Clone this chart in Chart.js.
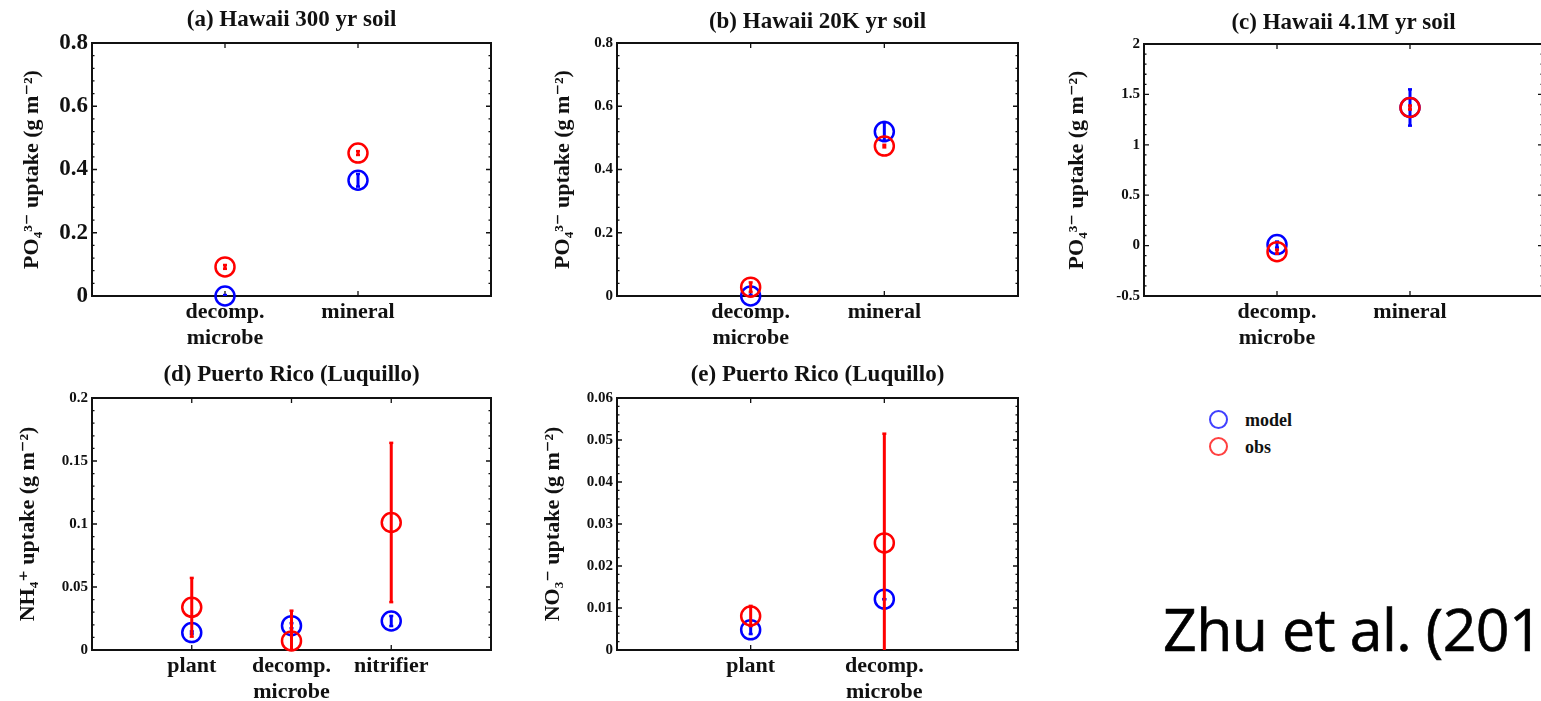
<!DOCTYPE html>
<html>
<head>
<meta charset="utf-8">
<script src="https://cdn.jsdelivr.net/npm/chart.js@4.4.1/dist/chart.umd.min.js"></script>
<style>
  html, body { margin: 0; padding: 0; background: #fff; }
  body { width: 1541px; height: 701px; overflow: hidden; position: relative; }
  .panel { position: absolute; }
  .legend { position: absolute; font: bold 18px "Liberation Serif", serif; color: #111; }
  .legend div { position: absolute; white-space: nowrap; }
  .dot { position: absolute; width: 15px; height: 15px; border-radius: 50%; border: 2px solid; }
  #cite { position: absolute; left: 1163px; top: 599px; font: 59px "Open Sans", sans-serif; line-height: 1; letter-spacing: -0.6px; white-space: nowrap; color: #000; -webkit-text-stroke: 0.6px #000; }
</style>
</head>
<body>
<div class="panel" style="left:0;top:0"><canvas id="pa" width="520" height="360"></canvas></div>
<div class="panel" style="left:520px;top:0"><canvas id="pb" width="520" height="360"></canvas></div>
<div class="panel" style="left:1040px;top:0"><canvas id="pc" width="520" height="360"></canvas></div>
<div class="panel" style="left:0;top:360px"><canvas id="pd" width="520" height="341"></canvas></div>
<div class="panel" style="left:520px;top:360px"><canvas id="pe" width="520" height="341"></canvas></div>

<div class="legend">
  <span class="dot" style="left:1209px;top:410px;border-color:#4040ff"></span>
  <div style="left:1245px;top:410px">model</div>
  <span class="dot" style="left:1209px;top:437px;border-color:#ff4040"></span>
  <div style="left:1245px;top:437px">obs</div>
</div>
<div id="cite">Zhu et al. (2015)</div>

<script>
// categories
const catsHawaii = [['decomp.', 'microbe'], 'mineral'];
const catsNH4 = ['plant', ['decomp.', 'microbe'], 'nitrifier'];
const catsNO3 = ['plant', ['decomp.', 'microbe']];

// (a) Hawaii 300 yr
const modelA = [0.0, 0.366];
const modelErrA = [0.003, 0.02];
const obsA = [0.092, 0.452];
const obsErrA = [0.006, 0.006];

// (b) Hawaii 20K yr
const modelB = [0.0, 0.52];
const modelErrB = [0.004, 0.03];
const obsB = [0.028, 0.474];
const obsErrB = [0.015, 0.004];

// (c) Hawaii 4.1M yr
const modelC = [0.01, 1.37];
const modelErrC = [0.03, 0.18];
const obsC = [-0.06, 1.37];
const obsErrC = [0.02, 0.02];

// (d) Puerto Rico NH4
const modelD = [0.0138, 0.0193, 0.023];
const modelErrD = [0.001, 0.002, 0.004];
const obsD = [0.0339, 0.0072, 0.1012];
const obsErrD = [0.0233, 0.024, 0.0632];

// (e) Puerto Rico NO3
const modelE = [0.0048, 0.0121];
const modelErrE = [0.001, 0];
const obsE = [0.0081, 0.0255];
const obsErrE = [0.0024, 0.026];

const BLUE = '#0000ff';
const RED = '#ff0000';
const SERIF = '"Liberation Serif", "DejaVu Serif", serif';

// box + inward ticks, matlab style
const framePlugin = {
    id: 'frame',
    beforeDatasetsDraw(chart) {
        const {ctx, chartArea: a, scales: {x, y}} = chart;
        ctx.save();
        ctx.strokeStyle = '#111';
        ctx.lineWidth = 2;
        ctx.strokeRect(a.left, a.top, a.right - a.left, a.bottom - a.top);
        ctx.lineWidth = 1.3;
        ctx.beginPath();
        const yt = y.ticks.map(t => t.value);
        const step = (yt[1] - yt[0]) / 5;
        for (let v = y.min; v <= y.max + step / 2; v += step) {
            const py = y.getPixelForValue(v);
            const major = yt.some(t => Math.abs(t - v) < step / 10);
            const len = major ? 5 : 2.5;
            ctx.moveTo(a.left, py); ctx.lineTo(a.left + len, py);
            ctx.moveTo(a.right, py); ctx.lineTo(a.right - len, py);
        }
        for (let i = 1; i < x.max; i++) {
            const px = x.getPixelForValue(i);
            ctx.moveTo(px, a.bottom); ctx.lineTo(px, a.bottom - 5);
            ctx.moveTo(px, a.top); ctx.lineTo(px, a.top + 5);
        }
        ctx.stroke();
        ctx.restore();
    }
};

function points(vals) {
    return vals.map((v, i) => ({x: i + 1, y: v}));
}

function errPoints(vals, errs) {
    let pts = [];
    vals.forEach((v, i) => {
        pts.push({x: i + 1, y: v - errs[i]}, {x: i + 1, y: v + errs[i]}, {x: i + 1, y: null});
    });
    return pts;
}

// 0.20 -> "0.2", 2.0 -> "2"
function shortNum(v) {
    return String(Math.round(v * 1e6) / 1e6);
}

function buildPanel(id, p) {
    return new Chart(id, {
        type: 'scatter',
        data: {
            datasets: [
                {label: 'obs err', type: 'line', data: errPoints(p.obs, p.obsErr), borderColor: RED, borderWidth: 3,
                    spanGaps: false, pointStyle: 'line', pointRadius: 2, pointBorderWidth: 2.5, pointBorderColor: RED},
                {label: 'obs', data: points(p.obs), borderColor: RED, backgroundColor: 'transparent',
                    pointRadius: 9.5, borderWidth: 2.5, clip: false},
                {label: 'model err', type: 'line', data: errPoints(p.model, p.modelErr), borderColor: BLUE, borderWidth: 3,
                    spanGaps: false, pointStyle: 'line', pointRadius: 2, pointBorderWidth: 2.5, pointBorderColor: BLUE},
                {label: 'model', data: points(p.model), borderColor: BLUE, backgroundColor: 'transparent',
                    pointRadius: 9.5, borderWidth: 2.5, clip: false}
            ]
        },
        options: {
            responsive: false,
            animation: false,
            events: [],
            layout: {padding: {left: 0, right: p.padRight, top: 0, bottom: 0}},
            plugins: {
                legend: {display: false},
                tooltip: {enabled: false},
                title: {
                    display: true, text: p.title, fullSize: false, color: '#111',
                    font: {family: SERIF, size: 23, weight: 'bold', lineHeight: 1.2},
                    padding: {top: p.titleTop, bottom: p.plotTop - p.titleTop - 27.6}
                }
            },
            scales: {
                x: {
                    type: 'linear', min: 0, max: p.cats.length + 1,
                    grid: {display: false, drawTicks: false},
                    border: {display: false},
                    ticks: {
                        stepSize: 1, autoSkip: false, maxRotation: 0, padding: 3, color: '#111',
                        font: {family: SERIF, size: 22, weight: 'bold', lineHeight: 1.2},
                        callback: v => p.cats[v - 1] || ''
                    },
                    afterFit: s => { s.height = p.xH; }
                },
                y: {
                    min: p.yMin, max: p.yMax,
                    grid: {display: false, drawTicks: false},
                    border: {display: false},
                    ticks: {
                        stepSize: p.yStep, padding: 4, color: '#111',
                        font: {family: SERIF, size: p.yTickSize, weight: 'bold'},
                        callback: v => shortNum(v)
                    },
                    title: {
                        display: true, text: p.yTitle, color: '#111',
                        font: {family: SERIF, size: 22, weight: 'bold', lineHeight: 1.2},
                        padding: {top: p.yTitlePad, bottom: 0}
                    },
                    afterFit: s => { s.width = p.yW; }
                }
            }
        },
        plugins: [framePlugin]
    });
}

const po4Title = 'PO\u2084\u00B3\u207B uptake (g m\u207B\u00B2)';

buildPanel('pa', {
    title: '(a) Hawaii 300 yr soil', cats: catsHawaii,
    model: modelA, modelErr: modelErrA, obs: obsA, obsErr: obsErrA,
    yMin: 0, yMax: 0.8, yStep: 0.2, yTickSize: 23, yTitle: po4Title,
    yW: 92, padRight: 29, plotTop: 43, titleTop: 6, xH: 64, yTitlePad: 19
});
buildPanel('pb', {
    title: '(b) Hawaii 20K yr soil', cats: catsHawaii,
    model: modelB, modelErr: modelErrB, obs: obsB, obsErr: obsErrB,
    yMin: 0, yMax: 0.8, yStep: 0.2, yTickSize: 15, yTitle: po4Title,
    yW: 97, padRight: 22, plotTop: 43, titleTop: 8, xH: 64, yTitlePad: 30
});
buildPanel('pc', {
    title: '(c) Hawaii 4.1M yr soil', cats: catsHawaii,
    model: modelC, modelErr: modelErrC, obs: obsC, obsErr: obsErrC,
    yMin: -0.5, yMax: 2, yStep: 0.5, yTickSize: 15, yTitle: po4Title,
    yW: 104, padRight: 17, plotTop: 44, titleTop: 9, xH: 64, yTitlePad: 24
});
buildPanel('pd', {
    title: '(d) Puerto Rico (Luquillo)', cats: catsNH4,
    model: modelD, modelErr: modelErrD, obs: obsD, obsErr: obsErrD,
    yMin: 0, yMax: 0.2, yStep: 0.05, yTickSize: 15, yTitle: 'NH\u2084\u207A uptake (g m\u207B\u00B2)',
    yW: 92, padRight: 29, plotTop: 38, titleTop: 1, xH: 51, yTitlePad: 15
});
buildPanel('pe', {
    title: '(e) Puerto Rico (Luquillo)', cats: catsNO3,
    model: modelE, modelErr: modelErrE, obs: obsE, obsErr: obsErrE,
    yMin: 0, yMax: 0.06, yStep: 0.01, yTickSize: 15, yTitle: 'NO\u2083\u207B uptake (g m\u207B\u00B2)',
    yW: 97, padRight: 22, plotTop: 38, titleTop: 1, xH: 51, yTitlePad: 20
});
</script>
</body>
</html>
